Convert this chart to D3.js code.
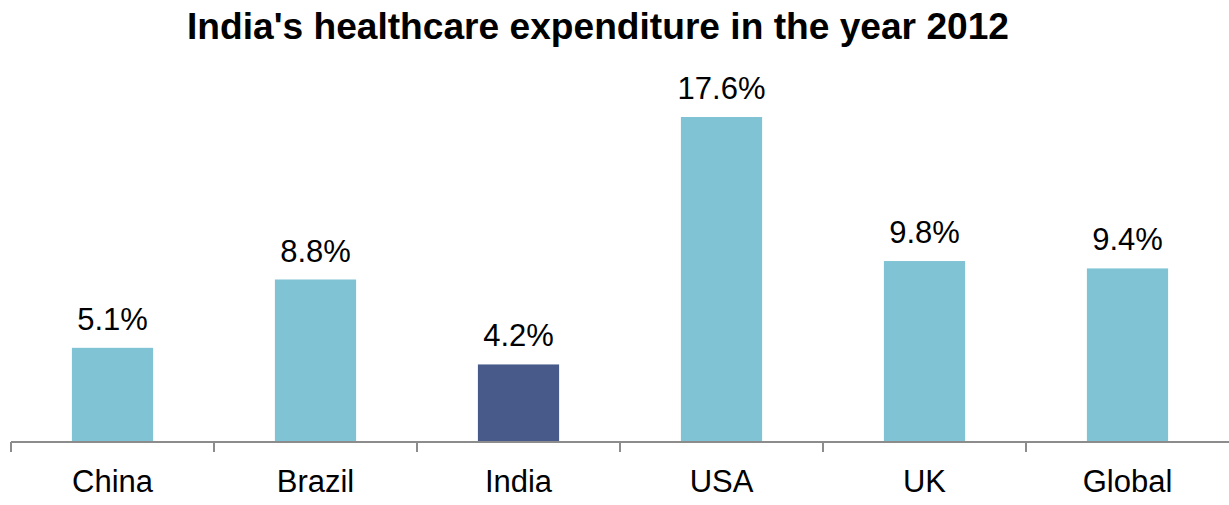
<!DOCTYPE html>
<html><head><meta charset="utf-8">
<script src="https://cdn.jsdelivr.net/npm/d3@7"></script>
<style>html,body{margin:0;padding:0;background:#fff;}svg{display:block;font-family:"Liberation Sans",Arial,sans-serif;}</style>
</head><body>
<svg id="c" width="1229" height="505"></svg>
<script>
const categories = ["China","Brazil","India","USA","UK","Global"];
const values = [5.1, 8.8, 4.2, 17.6, 9.8, 9.4];
const valueLabels = ["5.1%","8.8%","4.2%","17.6%","9.8%","9.4%"];
const highlight = "India";
const title = "India's healthcare expenditure in the year 2012";

const svg = d3.select("#c");
const x0 = 11, x1 = 1229, yBase = 442, yTop = 117;
const x = d3.scaleBand().domain(categories).range([x0, x1]).paddingInner(0.6).paddingOuter(0.3);
const band = d3.scaleBand().domain(categories).range([x0, x1]);
const y = d3.scaleLinear().domain([0, 17.6]).range([yBase, yTop]);

svg.append("text").attr("x", 598).attr("y", 39).attr("text-anchor","middle")
  .attr("font-weight","bold").attr("font-size",37).attr("fill","#000")
  .attr("textLength",822).attr("lengthAdjust","spacingAndGlyphs").text(title);

svg.selectAll("rect.bar").data(categories).join("rect").attr("class","bar")
  .attr("x", d => x(d)).attr("width", x.bandwidth())
  .attr("y", (d,i) => y(values[i])).attr("height", (d,i) => yBase - y(values[i]))
  .attr("fill", d => d === highlight ? "#475A8A" : "#7FC3D4");

svg.selectAll("text.val").data(categories).join("text").attr("class","val")
  .attr("x", d => x(d) + x.bandwidth()/2).attr("y", (d,i) => y(values[i]) - 18)
  .attr("text-anchor","middle").attr("font-size",31).attr("fill","#000")
  .text((d,i) => valueLabels[i]);

// axis
const ax = svg.append("g");
ax.append("line").attr("x1", x0).attr("x2", x1).attr("y1", yBase).attr("y2", yBase)
  .attr("stroke","#8c8c8c").attr("stroke-width",2);
ax.selectAll("line.tick").data(categories).join("line").attr("class","tick")
  .attr("x1", d => band(d)).attr("x2", d => band(d)).attr("y1", yBase).attr("y2", yBase + 10)
  .attr("stroke","#8c8c8c").attr("stroke-width",2);
ax.selectAll("text.cat").data(categories).join("text").attr("class","cat")
  .attr("x", d => band(d) + band.bandwidth()/2).attr("y", 492)
  .attr("text-anchor","middle").attr("font-size",31).attr("fill","#000").text(d => d);
</script>
</body></html>
